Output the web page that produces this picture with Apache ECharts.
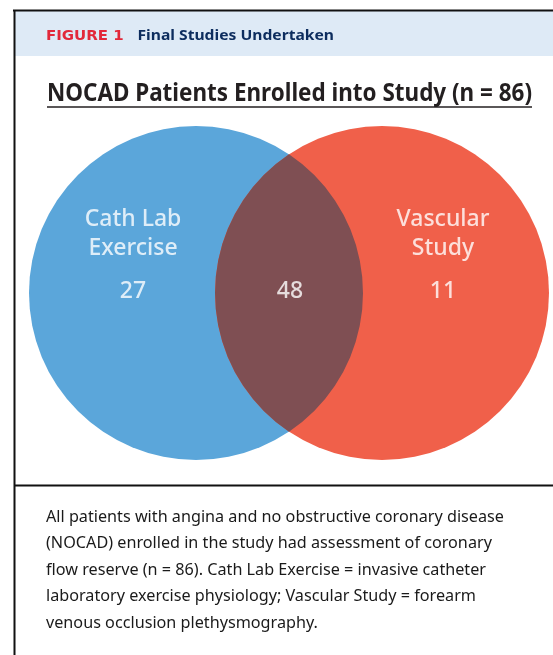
<!DOCTYPE html>
<html>
<head>
<meta charset="utf-8">
<script src="https://cdn.jsdelivr.net/npm/echarts@6/dist/echarts.min.js"></script>
<style>
html,body{margin:0;padding:0;background:#fff;}
#chart{width:553px;height:655px;}
</style>
</head>
<body>
<div id="chart"></div>
<script>
// ---- data ----
const setNames = ['Cath Lab\nExercise', 'Vascular\nStudy'];
const onlyCounts = [27, 11];
const overlapCount = 48;
const figureLabel = 'FIGURE 1';
const figureTitle = 'Final Studies Undertaken';
const chartTitle = 'NOCAD Patients Enrolled into Study (n = 86)';
const captionLines = [
  'All patients with angina and no obstructive coronary disease',
  '(NOCAD) enrolled in the study had assessment of coronary',
  'flow reserve (n = 86). Cath Lab Exercise = invasive catheter',
  'laboratory exercise physiology; Vascular Study = forearm',
  'venous occlusion plethysmography.'
];

// ---- layout (plot units = pixels of the page) ----
const W = 553, H = 655;
const circleCX = [196, 382];
const circleCY = 293;
const circleR = 167;
const labelX = [133, 443];
const overlapX = 290;
const nameY = 234;
const countY = 291;
const setColors = ['#5BA6DA', '#F0604A'];
const overlapColor = '#7F4F53';

const measureCtx = document.createElement('canvas').getContext('2d');
function fitScale(text, font, target) {
  measureCtx.font = font;
  const w = measureCtx.measureText(text).width;
  return w > 0 ? target / w : 1;
}

const chart = echarts.init(document.getElementById('chart'), null, {renderer: 'canvas'});

const circleData = setNames.map((n, i) => ({name: n, value: [circleCX[i], circleCY, circleR, i]}));

function renderCircle(params, api) {
  const c = api.coord([api.value(0), api.value(1)]);
  const r = api.size([api.value(2), 0])[0];
  const idx = api.value(3);
  return {
    type: 'circle',
    shape: {cx: c[0], cy: c[1], r: r},
    style: {fill: setColors[idx]}
  };
}

function renderLens(params, api) {
  const c0 = api.coord([circleCX[0], circleCY]);
  const c1 = api.coord([circleCX[1], circleCY]);
  const r = api.size([circleR, 0])[0];
  const half = (c1[0] - c0[0]) / 2;
  const mx = (c0[0] + c1[0]) / 2;
  const h = Math.sqrt(r * r - half * half);
  const top = [mx, c0[1] - h], bot = [mx, c0[1] + h];
  const d = 'M' + top[0] + ' ' + top[1] +
    ' A' + r + ' ' + r + ' 0 0 1 ' + bot[0] + ' ' + bot[1] +
    ' A' + r + ' ' + r + ' 0 0 1 ' + top[0] + ' ' + top[1] + ' Z';
  return {type: 'path', shape: {pathData: d}, style: {fill: overlapColor}};
}

const nameData = setNames.map((n, i) => ({name: n, value: [labelX[i], nameY]}));
const countData = onlyCounts.map((v, i) => ({name: String(v), value: [labelX[i], countY]}))
  .concat([{name: String(overlapCount), value: [overlapX, countY]}]);

const textFont = 'Noto Sans';
const titleFont = 'bold 25px "Noto Sans"';
const headFont = 'bold 15px "Noto Sans"';
const capFont = '16.2px "Noto Sans"';

const captionGraphics = captionLines.map((t, i) => ({
  type: 'text', x: 46, y: 517 + i * 26.6,
  style: {text: t, fill: '#1A1A1A', font: capFont, textVerticalAlign: 'middle'}
}));

chart.setOption({
  animation: false,
  grid: {left: 0, top: 0, width: W, height: H},
  xAxis: {type: 'value', min: 0, max: W, show: false},
  yAxis: {type: 'value', min: 0, max: H, inverse: true, show: false},
  series: [
    {type: 'custom', data: circleData, renderItem: renderCircle, silent: true, z: 1},
    {type: 'custom', data: [[0, 0]], renderItem: renderLens, silent: true, z: 2},
    {
      type: 'scatter', data: nameData, symbolSize: 0, z: 3, silent: true,
      label: {show: true, position: 'inside', formatter: p => p.name, color: '#fff',
        fontFamily: textFont, fontSize: 23, lineHeight: 29, fontWeight: 500}
    },
    {
      type: 'scatter', data: countData, symbolSize: 0, z: 3, silent: true,
      label: {show: true, position: 'inside', formatter: p => p.name, color: '#fff',
        fontFamily: textFont, fontSize: 23, fontWeight: 500}
    }
  ],
  graphic: [
    {type: 'rect', shape: {x: 14, y: 11, width: W, height: 45}, style: {fill: '#DEEAF6'}, z: 0},
    {type: 'line', shape: {x1: 13, y1: 10.5, x2: W, y2: 10.5}, style: {stroke: '#111', lineWidth: 2}},
    {type: 'line', shape: {x1: 14.5, y1: 10, x2: 14.5, y2: H}, style: {stroke: '#111', lineWidth: 2}},
    {type: 'line', shape: {x1: 14, y1: 485.5, x2: W, y2: 485.5}, style: {stroke: '#111', lineWidth: 2}},
    {type: 'text', x: 46, y: 36, style: {text: figureLabel, fill: '#E2283A', font: 'bold 14px "DejaVu Sans"',
      textVerticalAlign: 'middle'}, scaleX: 1.07},
    {type: 'text', x: 137.5, y: 36, style: {text: figureTitle, fill: '#0D2D5E', font: headFont,
      textVerticalAlign: 'middle'}, scaleX: fitScale(figureTitle, headFont, 196.5)},
    {type: 'text', x: 47, y: 94, style: {text: chartTitle, fill: '#231F20', font: titleFont,
      textVerticalAlign: 'middle'}, scaleX: fitScale(chartTitle, titleFont, 485)},
    {type: 'line', shape: {x1: 47, y1: 107, x2: 532, y2: 107}, style: {stroke: '#231F20', lineWidth: 1.5}}
  ].concat(captionGraphics)
});
</script>
</body>
</html>
